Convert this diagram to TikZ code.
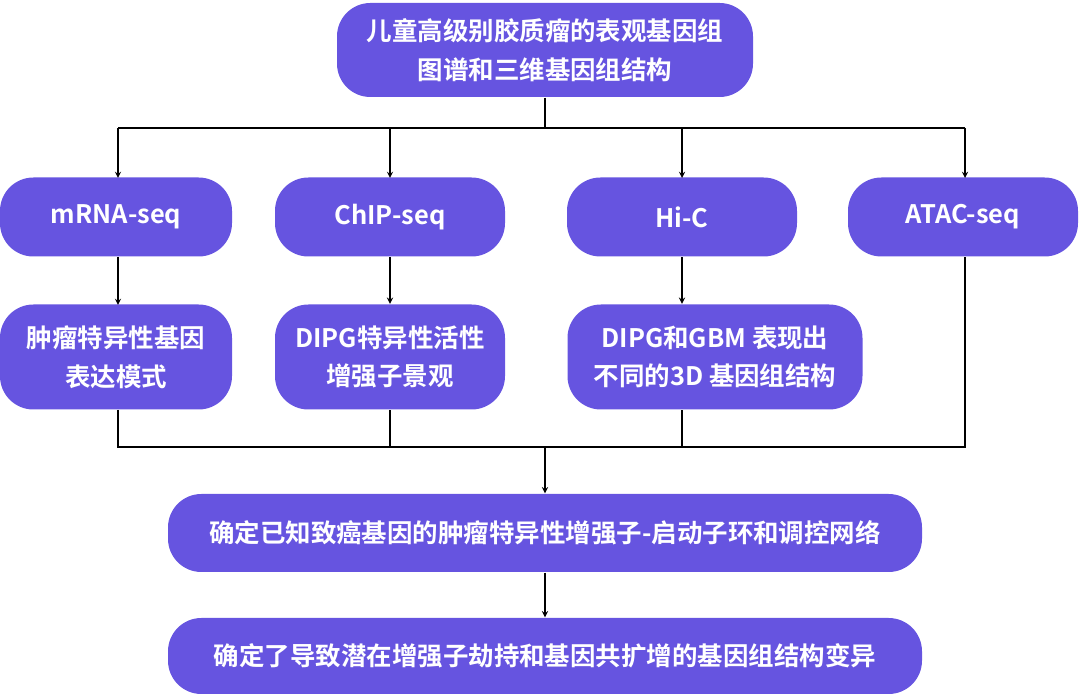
\documentclass[tikz,border=0pt]{standalone}
\usepackage{fontspec}
\newfontfamily\cjk{Noto Sans CJK SC Bold}
\usetikzlibrary{calc}
\definecolor{boxpurple}{HTML}{6654E0}
\begin{document}
\begin{tikzpicture}[x=0.02cm,y=-0.02cm,thick,
  box/.style={fill=boxpurple,text=white,rounded corners=19pt,align=center,
    font=\cjk\fontsize{14.5}{22}\selectfont,inner sep=0pt},
  arr/.style={->,>=stealth,black,line width=0.6pt},
  ln/.style={black,line width=0.6pt}]
\useasboundingbox (0,0) rectangle (1080,695);

% top and method row
\node[box,minimum width=416*0.02cm,minimum height=94*0.02cm] (top) at (545,50) {儿童高级别胶质瘤的表观基因组\\图谱和三维基因组结构};
\node[box,minimum width=232*0.02cm,minimum height=79*0.02cm] (mrna) at (116,217) {mRNA-seq};
\node[box,minimum width=230*0.02cm,minimum height=79*0.02cm] (chip) at (390,217) {ChIP-seq};
\node[box,minimum width=230*0.02cm,minimum height=79*0.02cm] (hic) at (682,217) {Hi-C};
\node[box,minimum width=230*0.02cm,minimum height=79*0.02cm] (atac) at (963,217) {ATAC-seq};

% findings
\node[box,minimum width=232*0.02cm,minimum height=105*0.02cm] (res1) at (116,357) {肿瘤特异性基因\\表达模式};
\node[box,minimum width=230*0.02cm,minimum height=105*0.02cm] (res2) at (390,357) {DIPG特异性活性\\增强子景观};
\node[box,minimum width=295*0.02cm,minimum height=105*0.02cm] (res3) at (715,357) {DIPG和GBM 表现出\\不同的3D 基因组结构};
\node[box,minimum width=754*0.02cm,minimum height=78*0.02cm] (loop) at (545,533) {确定已知致癌基因的肿瘤特异性增强子-启动子环和调控网络};
\node[box,minimum width=754*0.02cm,minimum height=76*0.02cm] (var) at (545,656) {确定了导致潜在增强子劫持和基因共扩增的基因组结构变异};

\coordinate (split) at (545,128);
\coordinate (merge) at (545,447);
\draw[ln] (top.south) -- (split);
\draw[ln] (118,128) -- (965,128);
\foreach \n/\x in {mrna/118,chip/390,hic/682,atac/965}
  \draw[arr] (\x,128) -- (\x,178);
\draw[arr] (118,257) -- (118,305);
\draw[arr] (chip.south) -- (chip.south|-res2.north);
\draw[arr] (hic.south) -- (hic.south|-res3.north);
\draw[ln] (118,410) -- (118,447) -- (965,447) -- (965,257);
\draw[ln] (res2.south) -- (res2.south|-merge);
\draw[ln] (hic.south|-res3.south) -- (hic.south|-merge);
\draw[arr] (merge) -- (loop.north);
\draw[arr] (loop.south) -- (var.north);
\end{tikzpicture}
\end{document}
